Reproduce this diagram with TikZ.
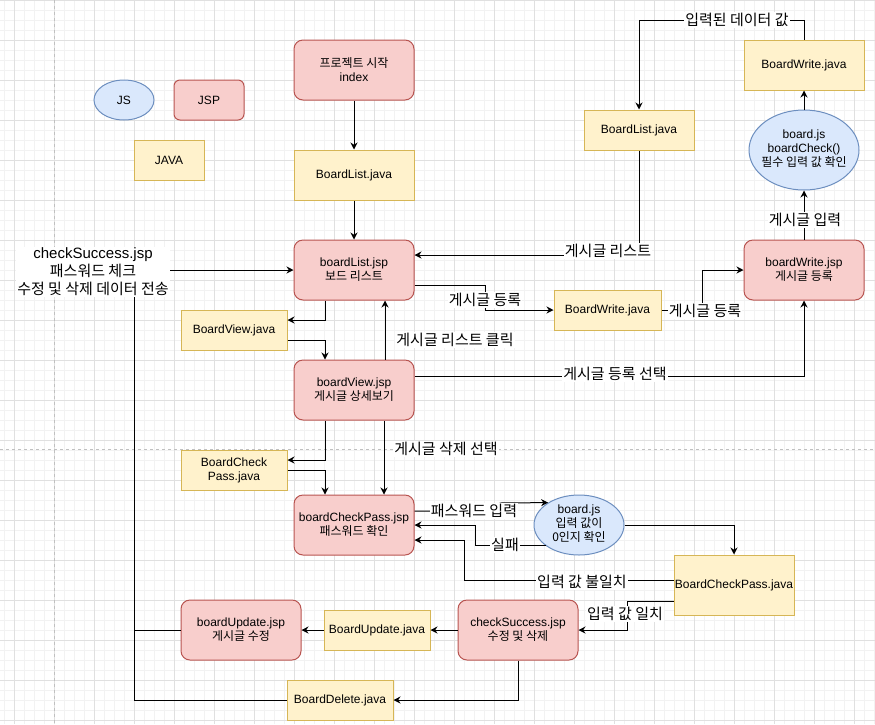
\documentclass[tikz,border=0pt]{standalone}
\usepackage{fontspec}
\setmainfont{Liberation Sans}
\newfontfamily\kr{Noto Sans CJK KR}
\usetikzlibrary{shapes.geometric,arrows.meta}
\definecolor{redf}{HTML}{F8CECC}
\definecolor{redd}{HTML}{B85450}
\definecolor{yelf}{HTML}{FFF2CC}
\definecolor{yeld}{HTML}{D6B656}
\definecolor{bluf}{HTML}{DAE8FC}
\definecolor{blud}{HTML}{6C8EBF}
\definecolor{gmin}{HTML}{F2F2F2}
\definecolor{gmaj}{HTML}{E0E0E0}
\definecolor{pgbrk}{HTML}{C0C0C0}
\newcommand{\ctrtxt}[1]{\makebox[0pt][c]{\begin{tabular}{@{}c@{}}#1\end{tabular}}}
\begin{document}
\begin{tikzpicture}[x=1pt,y=-1pt,
  base/.style={inner sep=0pt, align=center, font=\fontsize{12}{14}\selectfont, line width=1pt},
  redbox/.style={base, draw=redd, fill=redf, rounded corners=9pt},
  yelbox/.style={base, draw=yeld, fill=yelf},
  blubox/.style={base, ellipse, draw=blud, fill=bluf},
  elbl/.style={fill=white, inner sep=1pt, font=\kr\fontsize{15}{18}\selectfont, align=center},
  arr/.style={-{Stealth[length=7pt,width=7pt]}, line width=1pt},
  ln/.style={line width=1pt}]
\useasboundingbox (0,0) rectangle (875,724);
\fill[white] (0,0) rectangle (875,724);
% grid
\foreach \x in {4,14,...,874} \draw[gmin, line width=1pt] (\x,0) -- (\x,724);
\foreach \y in {0.7,10.7,...,724} \draw[gmin, line width=1pt] (0,\y) -- (875,\y);
\foreach \x in {14,54,...,874} \draw[gmaj, line width=1pt] (\x,0) -- (\x,724);
\foreach \y in {0.7,40.7,...,724} \draw[gmaj, line width=1pt] (0,\y) -- (875,\y);
\draw[pgbrk, line width=1pt, dash pattern=on 3pt off 3pt] (54.3,0) -- (54.3,724);
\draw[pgbrk, line width=1pt, dash pattern=on 3pt off 3pt] (0,449) -- (875,449);

% legend
\node[blubox, minimum width=60pt, minimum height=40pt] (js) at (124,100) {JS};
\node[redbox, rounded corners=6pt, minimum width=70pt, minimum height=40pt] (jsp) at (209,100) {JSP};
\node[yelbox, minimum width=70pt, minimum height=40pt] (java) at (169,160) {JAVA};

% main nodes
\node[redbox, minimum width=120pt, minimum height=60pt] (idx) at (354,70) {{\kr 프로젝트 시작}\\index};
\node[yelbox, minimum width=120pt, minimum height=50pt] (bl1) at (354,175) {BoardList.java};
\node[redbox, minimum width=120pt, minimum height=60pt] (blj) at (354,270) {boardList.jsp\\{\kr 보드 리스트}};
\node[yelbox, minimum width=106pt, minimum height=40pt] (bvj) at (234,330) {BoardView.java};
\node[redbox, minimum width=120pt, minimum height=60pt] (bvjsp) at (354,390) {boardView.jsp\\{\kr 게시글 상세보기}};
\node[yelbox, minimum width=106pt, minimum height=40pt] (bcpj) at (234,470) {BoardCheck\\Pass.java};
\node[redbox, minimum width=120pt, minimum height=60pt] (bcpjsp) at (354,525) {boardCheckPass.jsp\\{\kr 패스워드 확인}};
\node[blubox, minimum width=90pt, minimum height=60pt] (bjs2) at (579,525) {\ctrtxt{board.js\\{\kr 입력 값이}\\{\kr 0인지 확인}}};
\node[yelbox, minimum width=120pt, minimum height=60pt] (bcpj2) at (734,585) {BoardCheckPass.java};
\node[redbox, minimum width=120pt, minimum height=60pt] (csj) at (518,630) {checkSuccess.jsp\\{\kr 수정 및 삭제}};
\node[yelbox, minimum width=106pt, minimum height=40pt] (buj) at (377,630) {BoardUpdate.java};
\node[redbox, minimum width=120pt, minimum height=60pt] (bujsp) at (241,630) {boardUpdate.jsp\\{\kr 게시글 수정}};
\node[yelbox, minimum width=106pt, minimum height=40pt] (bdj) at (340,700) {BoardDelete.java};
\node[yelbox, minimum width=110pt, minimum height=40pt] (bl2) at (639,130) {BoardList.java};
\node[yelbox, minimum width=107pt, minimum height=40pt] (bwj) at (607.5,310) {BoardWrite.java};
\node[redbox, minimum width=120pt, minimum height=60pt] (bwjsp) at (804,270) {boardWrite.jsp\\{\kr 게시글 등록}};
\node[blubox, minimum width=110pt, minimum height=80pt] (bjs1) at (804,150) {\ctrtxt{board.js\\boardCheck()\\{\kr 필수 입력 값 확인}}};
\node[yelbox, minimum width=120pt, minimum height=50pt] (bwj2) at (804,65) {BoardWrite.java};

% edges
\draw[arr] (idx.south) -- (bl1.north);
\draw[arr] (bl1.south) -- (blj.north);
\draw[ln] (bdj.west) -| (134,630);
\draw[arr] (bujsp.west) -| (134,270) -- (blj.west)
  node[elbl] (lcs) at (93,272) {\fontspec{Liberation Sans}checkSuccess.jsp\\패스워드 체크\\수정 및 삭제 데이터 전송};
\draw[arr] ([xshift=-29pt]blj.south) |- ([yshift=10pt]bvj.east);
\draw[arr] ([yshift=-10pt]bvj.east) -| ([xshift=-29pt]bvjsp.north);
\draw[arr] ([xshift=31pt]bvjsp.north) -- ([xshift=31pt]blj.south)
  node[elbl] (l1) at (455,340) {게시글 리스트 클릭};
\draw[arr] (bl2.south) |- ([yshift=15pt]blj.east)
  node[elbl] (l2) at (608,251) {게시글 리스트};
\draw[arr] ([yshift=-15pt]blj.east) -| (485,310) -- (bwj.west)
  node[elbl] (l3) at (485,300) {게시글 등록};
\draw[arr] (bwj.east) -| (702,270) -- (bwjsp.west)
  node[elbl] (l4) at (705,311) {게시글 등록};
\draw[arr] ([yshift=14pt]bvjsp.east) -| (bwjsp.south)
  node[elbl] (l5) at (615,374) {게시글 등록 선택};
\draw[arr] (bwjsp.north) -- (bjs1.south)
  node[elbl] (l6) at (805,220) {게시글 입력};
\draw[arr] (bjs1.north) -- (bwj2.south);
\draw[arr] (bwj2.north) -- (804,20) -| (bl2.north)
  node[elbl] (l7) at (737,20) {입력된 데이터 값};
\draw[arr] ([xshift=-29pt]bvjsp.south) |- ([yshift=10pt]bcpj.east);
\draw[arr] (bcpj.east) -| ([xshift=-29pt]bcpjsp.north);
\draw[arr] ([xshift=30pt]bvjsp.south) -- ([xshift=30pt]bcpjsp.north)
  node[elbl] (l8) at (446,449) {게시글 삭제 선택};
\draw[arr] ([yshift=14pt]bcpjsp.east) -- (500,511) -- (500,503) -- (bjs2.144.3)
  node[elbl] (l9) at (474,511) {패스워드 입력};
\draw[arr] (bjs2.212.5) -| (475,525) -- (bcpjsp.east)
  node[elbl] (l10) at (505,545) {실패};
\draw[arr] ([yshift=5pt]bcpj2.west) -| (464,540) -- ([yshift=-15pt]bcpjsp.east)
  node[elbl] (l11) at (582,582) {입력 값 불일치};
\draw[arr] (bjs2.east) -| (bcpj2.north);
\draw[arr] ([yshift=-16pt]bcpj2.west) -| (627,630) -- (csj.east)
  node[elbl] (l12) at (625,614) {입력 값 일치};
\draw[arr] (csj.west) -- (buj.east);
\draw[arr] (buj.west) -- (bujsp.east);
\draw[arr] (csj.south) |- (bdj.east);
\end{tikzpicture}
\end{document}
